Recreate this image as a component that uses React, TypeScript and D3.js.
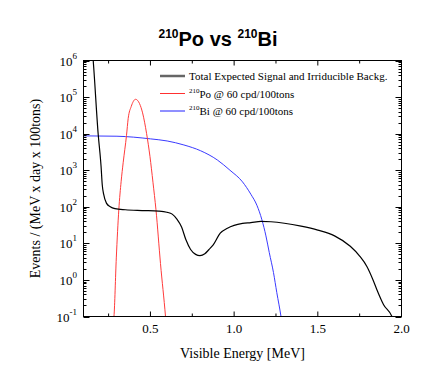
import { useEffect, useRef } from 'react';
import * as d3 from 'd3';

// total expected signal + irreducible background
const totalEnergy = [0.15, 0.158, 0.188, 0.202, 0.205, 0.212, 0.22, 0.237, 0.26, 0.288, 0.35, 0.45, 0.55, 0.598, 0.63, 0.658, 0.686, 0.712, 0.74, 0.77, 0.796, 0.825, 0.85, 0.875, 0.917, 0.96, 1.0, 1.05, 1.1, 1.16, 1.22, 1.3, 1.4, 1.5, 1.6, 1.694, 1.75, 1.794, 1.83, 1.853, 1.893, 1.943, 1.96];
const totalEvents = [2.8e6, 1e6, 9300, 1900, 1260, 400, 224, 126, 100, 89, 83, 79, 76, 71, 63, 46, 28, 12.5, 6.8, 5.0, 4.6, 5.2, 6.8, 9.1, 19, 26, 31, 35, 37, 40, 39, 35.5, 29.5, 23, 16, 8.3, 4.5, 2.3, 1.0, 0.54, 0.21, 0.1, 0.06];

// 210Po @ 60 cpd/100tons
const poEnergy = [0.278, 0.282, 0.296, 0.311, 0.325, 0.337, 0.357, 0.367, 0.385, 0.411, 0.435, 0.453, 0.477, 0.497, 0.515, 0.533, 0.56, 0.59, 0.594];
const poEvents = [0.07, 0.1, 4, 83, 500, 1600, 9000, 26000, 55000, 87000, 66000, 37000, 10000, 2400, 470, 83, 2.8, 0.1, 0.06];

// 210Bi @ 60 cpd/100tons
const biEnergy = [0.1, 0.3, 0.5, 0.6, 0.7, 0.8, 0.9, 0.975, 1.05, 1.1, 1.136, 1.166, 1.19, 1.21, 1.235, 1.255, 1.28, 1.285];
const biEvents = [8700, 8500, 7200, 6300, 4900, 3400, 1900, 1000, 480, 220, 110, 44, 16, 5.6, 1.6, 0.45, 0.1, 0.07];

const xMajorTicks = [0.5, 1.0, 1.5, 2.0];
const xMinorTicks = [0.25, 0.75, 1.25, 1.75];
const yExponents = [-1, 0, 1, 2, 3, 4, 5, 6];

const legendLabels = [
  { sup: '', text: 'Total Expected Signal and Irriducible Backg.' },
  { sup: '210', text: 'Po @ 60 cpd/100tons' },
  { sup: '210', text: 'Bi @ 60 cpd/100tons' },
];

function SpectrumChart({ width = 436, height = 386 }) {
  const svgRef = useRef<SVGSVGElement>(null);
  const mountedRef = useRef(false);

  useEffect(() => {
    if (mountedRef.current) return;
    const svg = d3.select(svgRef.current);
    svg.selectAll('*').remove();

    const left = 83.5;
    const right = 401.5;
    const top = 60.5;
    const bottom = 316.5;
    const serif = '"Liberation Serif", "Times New Roman", serif';
    const sans = '"Liberation Sans", Arial, sans-serif';

    const x = d3.scaleLinear().domain([0.1, 2.0]).range([left, right]);
    const y = d3.scaleLog().domain([0.1, 1e6]).range([bottom, top]);

    svg
      .append('defs')
      .append('clipPath')
      .attr('id', 'plotClip')
      .append('rect')
      .attr('x', left)
      .attr('y', top)
      .attr('width', right - left)
      .attr('height', bottom - top);

    // title
    const title = svg
      .append('text')
      .attr('x', 218)
      .attr('y', 46)
      .attr('text-anchor', 'middle')
      .attr('font-family', sans)
      .attr('font-weight', 'bold')
      .attr('font-size', 20);
    title.append('tspan').attr('font-size', 12).attr('dy', -8).text('210');
    title.append('tspan').attr('dy', 8).text('Po vs ');
    title.append('tspan').attr('font-size', 12).attr('dy', -8).text('210');
    title.append('tspan').attr('dy', 8).text('Bi');

    // curves
    const line = d3
      .line<[number, number]>()
      .x((d) => x(d[0]))
      .y((d) => y(d[1]))
      .curve(d3.curveMonotoneX);

    const plot = svg.append('g').attr('clip-path', 'url(#plotClip)');
    const series = [
      { e: biEnergy, v: biEvents, color: '#3a3aff', w: 1 },
      { e: poEnergy, v: poEvents, color: '#ff3b3b', w: 1 },
      { e: totalEnergy, v: totalEvents, color: '#000', w: 1.2 },
    ];
    series.forEach((s) => {
      plot
        .append('path')
        .attr('d', line(s.e.map((e, i) => [e, s.v[i]] as [number, number])))
        .attr('fill', 'none')
        .attr('stroke', s.color)
        .attr('stroke-width', s.w);
    });

    // frame + ticks
    const axes = svg.append('g').attr('stroke', '#000').attr('stroke-width', 1);
    axes
      .append('rect')
      .attr('x', left)
      .attr('y', top)
      .attr('width', right - left)
      .attr('height', bottom - top)
      .attr('fill', 'none');

    const xTick = (v: number, len: number) => {
      axes.append('line').attr('x1', x(v)).attr('x2', x(v)).attr('y1', bottom).attr('y2', bottom - len);
      axes.append('line').attr('x1', x(v)).attr('x2', x(v)).attr('y1', top).attr('y2', top + len);
    };
    xMajorTicks.forEach((v) => xTick(v, 5));
    xMinorTicks.forEach((v) => xTick(v, 3));

    const yTick = (v: number, len: number) => {
      const py = Math.round(y(v)) + 0.5;
      axes.append('line').attr('x1', left).attr('x2', left + len).attr('y1', py).attr('y2', py);
      axes.append('line').attr('x1', right).attr('x2', right - len).attr('y1', py).attr('y2', py);
    };
    yExponents.forEach((p) => {
      yTick(10 ** p, 6);
      if (p < 6) d3.range(2, 10).forEach((m) => yTick(m * 10 ** p, 3));
    });

    // tick labels
    svg
      .append('g')
      .selectAll('text')
      .data(xMajorTicks)
      .join('text')
      .attr('x', (d) => x(d))
      .attr('y', 333)
      .attr('text-anchor', 'middle')
      .attr('font-family', serif)
      .attr('font-size', 13)
      .text((d) => d.toFixed(1));

    const yl = svg
      .append('g')
      .selectAll('text')
      .data(yExponents)
      .join('text')
      .attr('x', 77)
      .attr('y', (d) => y(10 ** d) + 5)
      .attr('text-anchor', 'end')
      .attr('font-family', serif)
      .attr('font-size', 13);
    yl.append('tspan').text('10');
    yl.append('tspan').attr('font-size', 9).attr('dy', -7).text((d) => String(d));

    // axis titles
    svg
      .append('text')
      .attr('x', (left + right) / 2)
      .attr('y', 358)
      .attr('text-anchor', 'middle')
      .attr('font-family', serif)
      .attr('font-size', 14)
      .text('Visible Energy [MeV]');
    svg
      .append('text')
      .attr('transform', `translate(40, ${(top + bottom) / 2}) rotate(-90)`)
      .attr('text-anchor', 'middle')
      .attr('font-family', serif)
      .attr('font-size', 14)
      .text('Events / (MeV x day x 100tons)');

    // legend
    const legendColors = ['#666666', '#ff3030', '#2020ff'];
    const legendWidths = [2.5, 1, 1];
    legendLabels.forEach((l, i) => {
      const ly = 76 + i * 17.5;
      svg
        .append('line')
        .attr('x1', 160)
        .attr('x2', 185)
        .attr('y1', ly)
        .attr('y2', ly)
        .attr('stroke', legendColors[i])
        .attr('stroke-width', legendWidths[i]);
      const t = svg
        .append('text')
        .attr('x', 189)
        .attr('y', ly + 4)
        .attr('font-family', serif)
        .attr('font-size', 11);
      if (l.sup) {
        t.append('tspan').attr('font-size', 7).attr('dy', -5).text(l.sup);
        t.append('tspan').attr('dy', 5).text(l.text);
      } else {
        t.text(l.text);
      }
    });

    mountedRef.current = true;
  }, []);

  return (
    <svg
      ref={svgRef}
      width={width}
      height={height}
      style={{ position: 'absolute', left: 0, top: 0, background: '#fff' }}
    />
  );
}

export default function App() {
  return <SpectrumChart />;
}
